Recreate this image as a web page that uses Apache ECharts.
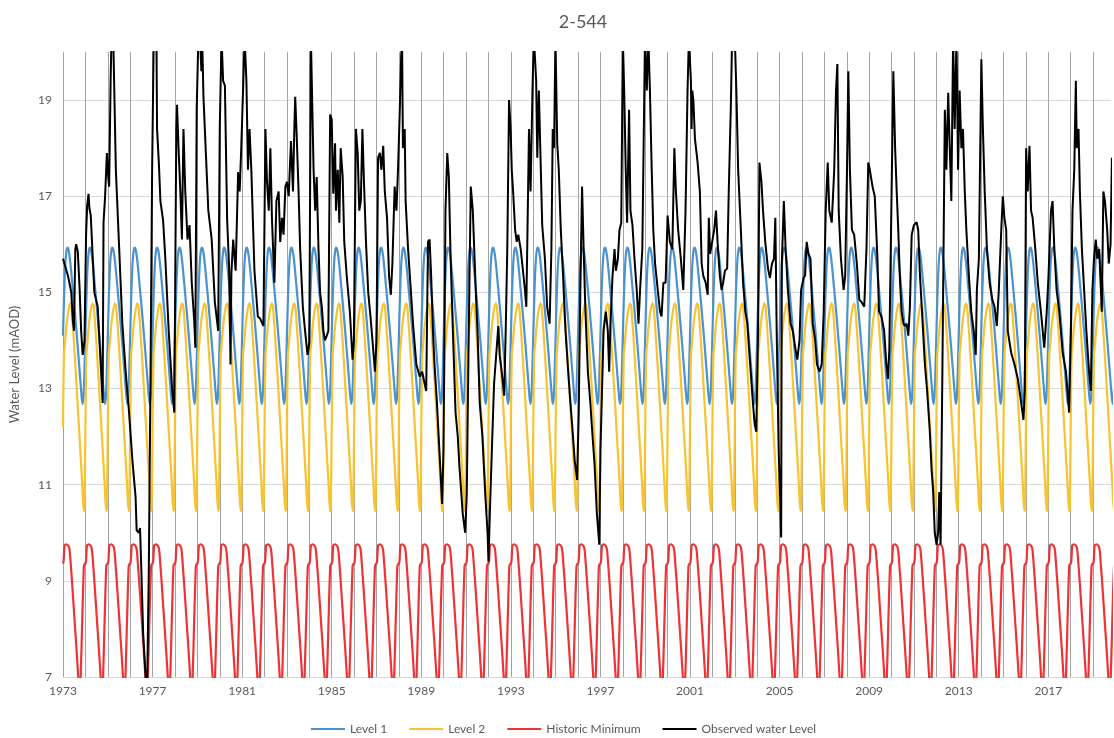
<!DOCTYPE html>
<html>
<head>
<meta charset="utf-8">
<title>2-544</title>
<script src="https://cdn.jsdelivr.net/npm/echarts@6/dist/echarts.min.js"></script>
<style>
  html, body { margin: 0; padding: 0; background: #fff; }
  #chart { width: 1114px; height: 738px; }
</style>
</head>
<body>
<div id="chart"></div>
<script>
// years covered by the trigger levels
var firstYear = 1973;
var lastYear = 2019;

// trigger levels repeat every year: position in the year (0 = 1 Jan) and level (mAOD)
var level1Phase = [0, 0.05, 0.1, 0.15, 0.2, 0.25, 0.32, 0.45, 0.6, 0.72, 0.82, 0.87, 0.92, 0.96];
var level1Value = [14.1, 14.95, 15.55, 15.85, 15.93, 15.88, 15.65, 15.0, 14.2, 13.5, 12.9, 12.68, 12.85, 13.4];

var level2Phase = [0, 0.04, 0.08, 0.15, 0.24, 0.32, 0.37, 0.44, 0.55, 0.7, 0.85, 0.93, 0.96];
var level2Value = [12.2, 13.7, 13.9, 14.3, 14.62, 14.77, 14.72, 14.3, 13.5, 12.3, 11.1, 10.45, 10.5];

var histMinPhase = [0, 0.03, 0.07, 0.15, 0.25, 0.3, 0.4, 0.5, 0.6, 0.68, 0.74, 0.79, 0.86, 0.93, 0.97];
var histMinValue = [9.36, 9.42, 9.74, 9.76, 9.72, 9.62, 9.0, 8.3, 7.6, 7.0, 6.5, 7.0, 8.2, 9.3, 9.35];

// observed water level: [decimal year, level mAOD]
var observed = [
  [1973.00,15.7],[1973.22,15.35],[1973.37,15.0],[1973.44,14.4],[1973.49,14.2],[1973.55,15.9],[1973.59,16.0],[1973.66,15.85],[1973.74,15.1],[1973.81,14.2],[1973.88,13.7],[1973.96,14.0],
  [1974.03,16.2],[1974.08,16.8],[1974.14,17.05],[1974.18,16.75],[1974.24,16.6],[1974.40,15.0],[1974.55,14.7],[1974.70,13.35],[1974.77,12.7],
  [1974.81,16.45],[1974.88,17.0],[1974.96,17.9],[1975.02,17.4],[1975.06,17.2],[1975.13,19.5],[1975.18,20.6],[1975.24,20.4],[1975.36,17.55],[1975.51,15.9],[1975.65,14.35],[1975.80,13.35],[1975.95,12.5],
  [1976.10,11.5],[1976.24,10.75],[1976.29,10.05],[1976.39,10.0],[1976.44,10.1],[1976.50,9.2],[1976.58,7.9],[1976.69,7.0],[1976.76,6.9],[1976.83,9.15],[1976.91,13.35],[1976.98,17.55],
  [1977.06,20.6],[1977.17,20.6],[1977.20,18.4],[1977.28,17.7],[1977.35,16.9],[1977.47,16.5],[1977.57,15.7],[1977.72,14.2],[1977.87,13.0],[1977.97,12.5],
  [1978.06,18.4],[1978.09,18.9],[1978.16,18.0],[1978.24,17.1],[1978.31,16.1],[1978.38,18.4],[1978.46,17.1],[1978.56,16.1],[1978.65,16.4],[1978.75,15.2],[1978.86,14.4],[1978.91,13.85],
  [1978.97,18.8],[1979.05,20.4],[1979.12,20.3],[1979.18,19.6],[1979.22,20.2],[1979.27,19.1],[1979.37,18.0],[1979.49,16.7],[1979.64,16.1],[1979.78,14.8],[1979.93,14.2],
  [1980.00,18.4],[1980.08,20.3],[1980.15,19.4],[1980.23,19.3],[1980.33,16.5],[1980.42,15.5],[1980.48,13.5],[1980.52,15.4],[1980.60,16.1],[1980.71,15.45],[1980.82,17.5],[1980.89,17.1],[1980.96,18.0],
  [1981.04,19.2],[1981.11,20.3],[1981.19,19.4],[1981.26,17.55],[1981.33,18.4],[1981.41,17.55],[1981.55,15.45],[1981.70,14.5],[1981.81,14.45],[1981.95,14.3],
  [1982.04,18.4],[1982.11,17.3],[1982.19,16.7],[1982.26,18.0],[1982.33,16.55],[1982.44,15.2],[1982.53,16.9],[1982.63,17.1],[1982.70,16.05],[1982.78,16.55],[1982.85,16.2],[1982.93,17.2],
  [1983.00,17.3],[1983.08,17.0],[1983.18,18.15],[1983.27,17.1],[1983.33,18.4],[1983.37,19.07],[1983.44,18.2],[1983.52,17.1],[1983.59,15.9],[1983.71,14.7],[1983.81,14.2],[1983.92,13.7],[1984.00,13.95],
  [1984.07,20.3],[1984.11,20.3],[1984.19,17.55],[1984.26,16.7],[1984.33,17.4],[1984.41,15.9],[1984.48,15.0],[1984.56,14.7],[1984.63,14.2],[1984.70,14.0],[1984.78,14.1],[1984.85,14.2],
  [1984.93,18.7],[1985.00,18.6],[1985.07,17.05],[1985.15,18.1],[1985.19,16.7],[1985.27,17.55],[1985.34,16.45],[1985.40,18.0],[1985.49,17.4],[1985.56,16.05],[1985.67,15.35],[1985.81,14.6],[1985.93,13.6],[1985.99,14.0],
  [1986.08,18.4],[1986.16,17.9],[1986.23,16.7],[1986.30,16.9],[1986.37,18.4],[1986.44,17.3],[1986.53,16.05],[1986.63,15.0],[1986.73,14.5],[1986.82,14.0],[1986.93,13.35],[1987.00,14.0],
  [1987.07,17.8],[1987.15,17.9],[1987.22,17.55],[1987.30,18.05],[1987.37,17.1],[1987.47,16.55],[1987.56,15.35],[1987.64,14.95],[1987.71,15.6],[1987.81,17.2],[1987.89,16.7],[1987.96,17.55],
  [1988.04,18.8],[1988.10,19.9],[1988.14,20.3],[1988.18,18.0],[1988.26,18.4],[1988.30,16.9],[1988.41,15.9],[1988.51,15.2],[1988.63,14.35],[1988.78,13.5],[1988.93,13.25],
  [1989.04,13.35],[1989.15,13.1],[1989.22,12.95],[1989.30,16.05],[1989.37,16.1],[1989.44,15.35],[1989.52,14.2],[1989.59,13.5],[1989.70,12.7],[1989.81,11.7],[1989.93,10.6],[1989.99,11.7],
  [1990.08,16.7],[1990.16,17.9],[1990.23,17.4],[1990.30,15.9],[1990.41,14.2],[1990.53,12.5],[1990.63,12.0],[1990.70,11.4],[1990.85,10.4],[1990.96,10.0],
  [1991.03,10.8],[1991.12,14.2],[1991.21,17.2],[1991.30,16.7],[1991.44,14.95],[1991.51,14.2],[1991.61,12.7],[1991.73,12.0],[1991.85,10.85],[1991.96,10.0],
  [1992.00,9.4],[1992.06,10.4],[1992.15,11.7],[1992.25,13.1],[1992.36,13.8],[1992.44,14.3],[1992.50,13.7],[1992.59,13.35],[1992.70,12.85],[1992.77,14.2],[1992.84,15.9],[1992.92,19.0],
  [1992.99,18.4],[1993.04,17.55],[1993.10,17.1],[1993.19,16.3],[1993.26,16.05],[1993.33,16.2],[1993.44,15.9],[1993.54,15.45],[1993.63,15.05],[1993.69,14.7],[1993.73,15.9],[1993.81,18.4],[1993.88,17.1],[1993.96,19.07],
  [1994.00,19.9],[1994.03,20.3],[1994.08,20.3],[1994.13,19.4],[1994.18,17.8],[1994.25,19.2],[1994.33,17.7],[1994.40,16.4],[1994.52,15.7],[1994.62,14.7],[1994.73,14.35],[1994.81,15.9],[1994.87,18.4],[1994.93,18.0],
  [1994.99,20.3],[1995.07,18.1],[1995.14,17.55],[1995.23,16.3],[1995.33,15.35],[1995.44,14.2],[1995.56,13.35],[1995.66,12.7],[1995.76,12.1],[1995.85,11.5],[1995.96,11.1],
  [1996.03,12.5],[1996.10,15.0],[1996.18,17.2],[1996.25,15.9],[1996.33,14.6],[1996.44,13.35],[1996.55,12.7],[1996.62,12.2],[1996.74,11.4],[1996.84,10.4],[1996.95,9.75],
  [1997.00,11.7],[1997.07,12.95],[1997.14,14.2],[1997.24,14.6],[1997.33,14.2],[1997.39,13.35],[1997.45,14.35],[1997.54,15.35],[1997.63,15.9],[1997.69,15.45],[1997.78,15.7],[1997.85,16.3],[1997.93,16.45],
  [1998.00,20.3],[1998.06,19.2],[1998.13,17.55],[1998.19,16.45],[1998.28,18.8],[1998.34,16.7],[1998.43,16.4],[1998.52,15.7],[1998.62,15.05],[1998.70,14.35],[1998.77,15.05],[1998.87,15.9],
  [1998.99,20.3],[1999.07,19.2],[1999.14,20.3],[1999.21,19.2],[1999.29,17.55],[1999.36,16.3],[1999.44,15.6],[1999.56,15.05],[1999.66,14.6],[1999.73,14.5],[1999.81,15.2],[1999.91,15.2],
  [2000.00,16.6],[2000.10,16.05],[2000.21,15.9],[2000.30,18.0],[2000.37,17.1],[2000.47,16.3],[2000.59,15.7],[2000.70,15.05],[2000.80,16.7],[2000.89,19.2],[2000.95,20.3],
  [2001.00,20.3],[2001.04,19.4],[2001.07,18.4],[2001.10,19.2],[2001.15,19.0],[2001.22,18.2],[2001.34,17.7],[2001.44,17.1],[2001.52,15.6],[2001.59,15.35],[2001.70,15.2],[2001.79,14.95],[2001.84,16.55],[2001.90,15.8],[2001.99,16.05],
  [2002.08,16.3],[2002.16,16.7],[2002.23,16.05],[2002.33,15.35],[2002.41,15.05],[2002.48,15.2],[2002.56,15.45],[2002.66,15.5],[2002.73,17.1],[2002.82,18.8],[2002.88,20.3],
  [2003.00,20.3],[2003.07,19.2],[2003.15,17.55],[2003.27,16.3],[2003.37,15.2],[2003.47,14.6],[2003.56,14.35],[2003.64,13.8],[2003.71,13.35],[2003.81,12.7],[2003.89,12.25],[2003.96,12.1],
  [2004.04,14.2],[2004.10,17.7],[2004.19,17.3],[2004.26,16.7],[2004.36,16.05],[2004.48,15.5],[2004.57,15.3],[2004.66,15.6],[2004.75,15.7],[2004.81,16.55],[2004.87,14.2],[2004.96,11.7],
  [2005.03,10.65],[2005.07,9.9],[2005.10,15.6],[2005.19,16.9],[2005.27,15.9],[2005.37,15.05],[2005.49,14.35],[2005.59,14.2],[2005.70,13.85],[2005.79,13.6],[2005.89,14.0],[2005.96,15.05],
  [2006.07,15.3],[2006.14,15.35],[2006.21,16.05],[2006.29,15.8],[2006.38,15.7],[2006.48,14.35],[2006.59,14.0],[2006.67,13.5],[2006.78,13.35],[2006.88,13.5],[2006.97,14.6],
  [2007.06,16.7],[2007.15,17.7],[2007.22,16.7],[2007.33,16.45],[2007.44,17.55],[2007.52,19.2],[2007.58,19.75],[2007.64,16.7],[2007.74,15.7],[2007.86,15.05],[2007.93,15.35],
  [2008.01,17.55],[2008.07,19.6],[2008.14,17.55],[2008.23,16.3],[2008.33,16.2],[2008.45,15.6],[2008.56,14.85],[2008.66,14.8],[2008.78,14.7],[2008.88,15.9],[2008.96,17.7],
  [2009.03,17.55],[2009.15,17.2],[2009.25,17.0],[2009.37,15.7],[2009.44,14.6],[2009.55,14.5],[2009.67,14.2],[2009.77,13.5],[2009.84,13.2],[2009.90,13.8],[2009.99,16.7],
  [2010.08,19.6],[2010.16,18.0],[2010.23,17.1],[2010.30,16.3],[2010.38,15.2],[2010.45,14.6],[2010.53,14.35],[2010.60,14.3],[2010.67,14.35],[2010.75,14.1],[2010.82,14.7],[2010.90,16.2],
  [2011.00,16.4],[2011.12,16.46],[2011.19,16.3],[2011.27,15.35],[2011.39,14.35],[2011.49,13.5],[2011.59,12.95],[2011.71,12.1],[2011.79,11.3],[2011.86,10.85],[2011.93,10.0],
  [2012.01,9.75],[2012.08,10.0],[2012.13,10.85],[2012.19,9.75],[2012.27,13.35],[2012.33,16.3],[2012.38,18.8],[2012.45,17.55],[2012.53,19.15],[2012.60,18.0],[2012.67,16.9],[2012.75,20.3],[2012.82,18.4],[2012.90,20.3],[2012.97,17.55],
  [2013.04,19.2],[2013.12,18.0],[2013.19,18.4],[2013.27,17.1],[2013.34,16.3],[2013.46,15.3],[2013.56,14.6],[2013.67,14.2],[2013.76,13.7],[2013.81,15.05],[2013.90,15.7],
  [2014.01,19.85],[2014.08,18.4],[2014.16,17.1],[2014.26,15.9],[2014.38,15.2],[2014.50,14.85],[2014.60,14.7],[2014.70,14.3],[2014.79,15.05],[2014.90,16.3],[2014.97,17.0],
  [2015.04,16.55],[2015.12,16.3],[2015.19,14.2],[2015.34,13.75],[2015.49,13.5],[2015.64,13.2],[2015.79,12.7],[2015.89,12.35],[2015.95,12.95],
  [2016.01,18.0],[2016.08,17.1],[2016.16,18.05],[2016.23,16.7],[2016.30,16.55],[2016.42,15.9],[2016.53,15.2],[2016.67,14.6],[2016.82,13.85],[2016.93,14.6],
  [2017.01,15.35],[2017.12,16.7],[2017.19,16.9],[2017.27,15.9],[2017.37,15.05],[2017.49,14.6],[2017.64,13.75],[2017.79,13.35],[2017.93,12.5],
  [2018.01,14.2],[2018.08,16.7],[2018.16,17.55],[2018.23,19.4],[2018.27,18.0],[2018.35,18.4],[2018.41,17.1],[2018.50,15.9],[2018.60,15.05],[2018.70,14.2],[2018.82,13.35],[2018.90,12.95],
  [2018.97,15.05],[2019.04,15.7],[2019.12,16.1],[2019.19,15.7],[2019.27,15.9],[2019.39,14.6],[2019.46,17.1],[2019.53,16.9],[2019.63,16.3],[2019.70,15.6],[2019.78,16.0],[2019.84,17.8]
];

// lay the yearly profile over every year of the record
function everyYear(phase, values) {
  var out = [];
  for (var y = firstYear; y <= lastYear; y++) {
    for (var i = 0; i < phase.length; i++) {
      out.push([y + phase[i], values[i]]);
    }
  }
  return out;
}

var myChart = echarts.init(document.getElementById("chart"));
var textColor = "#595959";
var font = "Lato, 'Open Sans', sans-serif";

var option = {
  animation: false,
  backgroundColor: "#fff",
  title: {
    text: "2-544",
    left: 578,
    textAlign: "center",
    top: 8,
    textStyle: { color: textColor, fontSize: 18, fontWeight: "normal", fontFamily: font }
  },
  legend: {
    top: 718,
    left: 306,
    icon: "rect",
    itemWidth: 34,
    itemHeight: 2,
    itemGap: 22,
    textStyle: { color: textColor, fontSize: 12, fontFamily: font },
    data: ["Level 1", "Level 2", "Historic Minimum", "Observed water Level"]
  },
  grid: { left: 60, right: 2, top: 52, bottom: 61, containLabel: false },
  xAxis: {
    type: "value",
    min: 1973,
    max: 2019.8,
    interval: 1,
    axisLine: { show: true, lineStyle: { color: "#d9d9d9" } },
    axisTick: { show: false },
    axisLabel: {
      color: textColor,
      fontSize: 12,
      fontFamily: font,
      margin: 8,
      formatter: function (v) {
        var r = Math.round(v);
        if (Math.abs(v - r) > 1e-6) return "";
        return (r - firstYear) % 4 === 0 ? String(r) : "";
      }
    },
    splitLine: { show: true, showMaxLine: false, lineStyle: { color: "#a3a3a3", width: 1 } }
  },
  yAxis: {
    type: "value",
    min: 7,
    max: 20,
    interval: 2,
    name: "Water Level (mAOD)",
    nameLocation: "middle",
    nameGap: 42,
    nameTextStyle: { color: textColor, fontSize: 13, fontFamily: font },
    axisLine: { show: false },
    axisTick: { show: false },
    axisLabel: { color: textColor, fontSize: 12, fontFamily: font, margin: 11, showMaxLabel: false },
    splitLine: { show: true, showMaxLine: false, lineStyle: { color: "#d9d9d9", width: 1 } }
  },
  series: [
    {
      name: "Level 1",
      type: "line",
      showSymbol: false,
      symbol: "none",
      clip: true,
      smooth: 0.3,
      lineStyle: { color: "#4a92cf", width: 2.2 },
      itemStyle: { color: "#4a92cf" },
      data: everyYear(level1Phase, level1Value)
    },
    {
      name: "Level 2",
      type: "line",
      showSymbol: false,
      symbol: "none",
      clip: true,
      smooth: 0.3,
      lineStyle: { color: "#f7c332", width: 2.2 },
      itemStyle: { color: "#f7c332" },
      data: everyYear(level2Phase, level2Value)
    },
    {
      name: "Historic Minimum",
      type: "line",
      showSymbol: false,
      symbol: "none",
      clip: true,
      smooth: 0.2,
      lineStyle: { color: "#ee3336", width: 2.2 },
      itemStyle: { color: "#ee3336" },
      data: everyYear(histMinPhase, histMinValue)
    },
    {
      name: "Observed water Level",
      type: "line",
      showSymbol: false,
      symbol: "none",
      clip: true,
      lineStyle: { color: "#000000", width: 2 },
      itemStyle: { color: "#000000" },
      data: observed
    }
  ]
};

myChart.setOption(option);
</script>
</body>
</html>
